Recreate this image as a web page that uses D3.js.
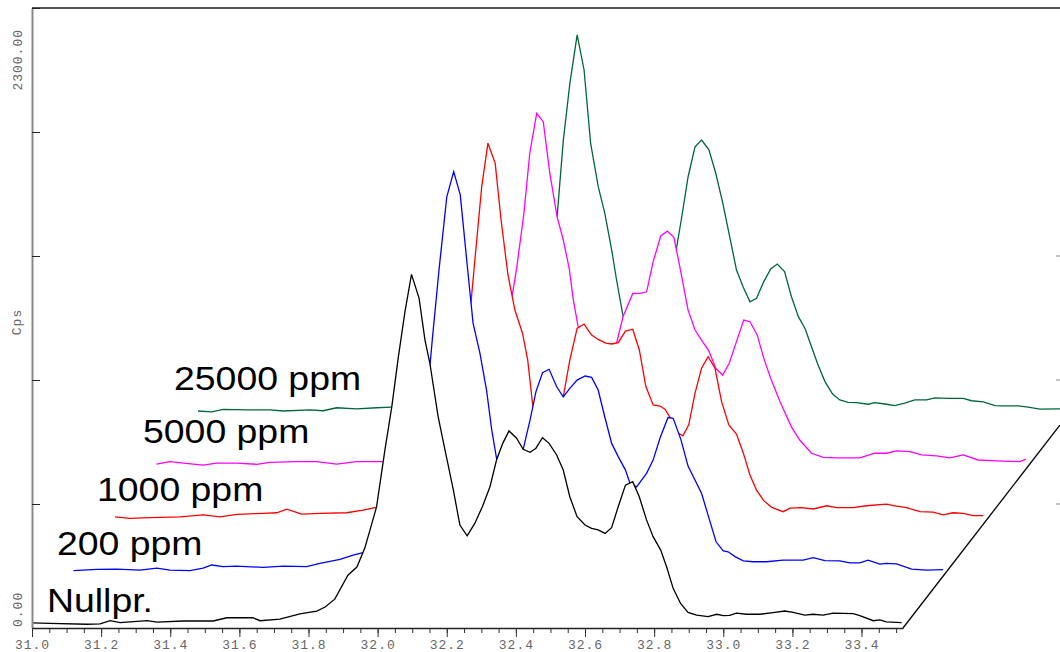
<!DOCTYPE html>
<html>
<head>
<meta charset="utf-8">
<script src="https://cdn.jsdelivr.net/npm/d3@7"></script>
<style>
  body { margin: 0; background: #fff; }
  svg { display: block; }
  .tick-label { font-family: "Liberation Mono", "DejaVu Sans Mono", monospace; font-size: 13px; fill: #666; letter-spacing: 1px; }
  .series-label { font-family: "Liberation Sans", Arial, sans-serif; font-size: 34px; fill: #000; }
</style>
</head>
<body>
<svg id="chart"></svg>
<script>
// series, front to back: name, colour
const seriesNames = ['Nullpr.', '200 ppm', '1000 ppm', '5000 ppm', '25000 ppm'];
const seriesColors = ['#000000', '#0000ff', '#ff0000', '#ff00ff', '#00663a'];

// [position, Cps]
const nullprData = [[31.000,19],[31.052,17],[31.159,14],[31.197,15],[31.226,27],[31.255,20],[31.333,27],[31.362,22],[31.437,26],[31.524,26],[31.564,38],[31.639,38],[31.660,27],[31.717,33],[31.775,52],[31.824,63],[31.848,78],[31.876,107],[31.914,196],[31.940,226],[31.963,297],[31.978,364],[31.997,450],[32.021,660],[32.041,821],[32.060,1006],[32.079,1173],[32.098,1312],[32.120,1223],[32.137,1068],[32.151,983],[32.175,784],[32.195,660],[32.219,512],[32.238,382],[32.259,342],[32.281,388],[32.303,450],[32.325,524],[32.344,623],[32.362,685],[32.380,731],[32.402,704],[32.421,663],[32.441,652],[32.458,667],[32.477,706],[32.496,685],[32.518,642],[32.537,586],[32.556,487],[32.577,413],[32.600,382],[32.619,370],[32.638,364],[32.658,351],[32.677,372],[32.696,450],[32.717,530],[32.738,543],[32.757,487],[32.778,401],[32.797,339],[32.819,289],[32.836,227],[32.855,147],[32.876,92],[32.898,58],[32.923,48],[32.956,42],[32.981,51],[33.000,46],[33.019,47],[33.038,55],[33.067,51],[33.106,51],[33.144,57],[33.178,63],[33.202,58],[33.236,48],[33.260,51],[33.289,48],[33.318,55],[33.376,53],[33.395,46],[33.434,27],[33.453,30],[33.472,23],[33.516,20]];

const ppm200Data = [[31.000,18],[31.067,23],[31.125,24],[31.192,20],[31.241,27],[31.279,20],[31.337,18],[31.375,27],[31.400,39],[31.433,33],[31.472,35],[31.549,30],[31.607,35],[31.675,33],[31.713,45],[31.771,60],[31.809,76],[31.838,85],[31.900,120],[31.960,300],[32.017,577],[32.038,874],[32.058,1140],[32.080,1405],[32.100,1498],[32.119,1412],[32.140,1140],[32.156,936],[32.176,824],[32.195,688],[32.210,540],[32.224,435],[32.243,362],[32.263,373],[32.282,410],[32.301,468],[32.321,577],[32.338,682],[32.357,752],[32.376,765],[32.398,700],[32.417,663],[32.436,694],[32.457,725],[32.480,740],[32.499,735],[32.518,688],[32.537,589],[32.557,490],[32.576,441],[32.597,391],[32.610,342],[32.629,329],[32.658,379],[32.677,428],[32.697,510],[32.720,586],[32.735,583],[32.757,506],[32.778,406],[32.817,305],[32.836,224],[32.859,125],[32.880,91],[32.894,88],[32.914,70],[32.938,54],[32.966,51],[33.005,51],[33.053,57],[33.111,57],[33.140,66],[33.174,55],[33.217,54],[33.246,47],[33.275,47],[33.299,57],[33.333,42],[33.352,45],[33.381,43],[33.425,24],[33.468,20],[33.516,22]];

const ppm1000Data = [[31.000,23],[31.043,17],[31.101,20],[31.188,23],[31.255,30],[31.304,23],[31.352,32],[31.429,36],[31.468,38],[31.497,51],[31.540,33],[31.593,36],[31.670,38],[31.718,48],[31.752,57],[31.824,63],[31.911,74],[31.969,104],[31.992,234],[32.015,605],[32.039,945],[32.061,1248],[32.079,1409],[32.100,1334],[32.117,1124],[32.137,920],[32.157,790],[32.179,704],[32.194,605],[32.208,444],[32.227,308],[32.247,289],[32.267,345],[32.297,469],[32.316,605],[32.337,722],[32.357,738],[32.379,697],[32.398,681],[32.420,667],[32.437,664],[32.456,669],[32.477,712],[32.498,719],[32.517,642],[32.536,506],[32.557,438],[32.577,434],[32.591,422],[32.605,394],[32.623,338],[32.643,323],[32.660,364],[32.678,481],[32.697,574],[32.716,617],[32.736,574],[32.755,450],[32.776,364],[32.798,330],[32.818,259],[32.837,178],[32.856,122],[32.877,83],[32.900,58],[32.933,42],[32.953,55],[32.986,57],[33.020,52],[33.059,64],[33.088,57],[33.136,57],[33.174,64],[33.232,70],[33.261,63],[33.290,57],[33.329,42],[33.367,40],[33.396,30],[33.425,38],[33.454,36],[33.483,27],[33.512,27]];

const ppm5000Data = [[31.000,24],[31.039,33],[31.078,27],[31.135,20],[31.174,27],[31.232,27],[31.290,23],[31.328,30],[31.406,33],[31.463,33],[31.521,24],[31.579,33],[31.656,33],[31.762,35],[31.907,35],[31.965,58],[31.988,150],[32.008,373],[32.027,633],[32.042,750],[32.063,954],[32.080,1177],[32.100,1325],[32.119,1294],[32.138,1102],[32.159,942],[32.177,855],[32.194,750],[32.206,633],[32.220,533],[32.240,466],[32.260,410],[32.280,380],[32.300,391],[32.318,428],[32.331,472],[32.350,571],[32.378,657],[32.399,657],[32.418,663],[32.437,775],[32.459,870],[32.478,888],[32.497,865],[32.514,756],[32.538,595],[32.558,521],[32.577,484],[32.598,444],[32.618,379],[32.638,354],[32.657,398],[32.678,478],[32.699,558],[32.717,552],[32.738,503],[32.757,416],[32.777,342],[32.804,255],[32.837,162],[32.861,113],[32.895,64],[32.929,49],[32.968,47],[33.035,47],[33.078,64],[33.112,64],[33.141,73],[33.180,70],[33.214,58],[33.257,54],[33.295,47],[33.334,58],[33.377,39],[33.431,36],[33.498,33],[33.515,42]];

const ppm25000Data = [[31.000,26],[31.040,23],[31.073,32],[31.141,30],[31.208,30],[31.247,26],[31.324,30],[31.362,27],[31.401,38],[31.459,34],[31.517,38],[31.560,40],[31.729,48],[31.931,67],[31.989,215],[32.018,549],[32.039,747],[32.057,1031],[32.076,1242],[32.097,1421],[32.117,1291],[32.136,1019],[32.158,858],[32.177,759],[32.197,623],[32.211,512],[32.230,376],[32.264,271],[32.308,326],[32.342,438],[32.385,635],[32.399,741],[32.418,895],[32.438,1006],[32.457,1031],[32.478,996],[32.498,908],[32.518,799],[32.539,668],[32.558,549],[32.577,487],[32.597,431],[32.616,444],[32.637,506],[32.657,553],[32.676,571],[32.697,543],[32.717,450],[32.737,376],[32.756,333],[32.775,264],[32.794,197],[32.814,135],[32.836,89],[32.857,67],[32.881,58],[32.905,57],[32.939,51],[32.958,57],[32.992,51],[33.016,46],[33.045,55],[33.074,67],[33.108,67],[33.132,75],[33.175,73],[33.214,73],[33.238,64],[33.272,60],[33.306,46],[33.325,45],[33.373,45],[33.402,40],[33.436,33],[33.494,34],[33.516,33]];

const seriesData = [nullprData, ppm200Data, ppm1000Data, ppm5000Data, ppm25000Data];

// axis ticks
const xMajorTicks = d3.range(0, 13).map(k => 31 + k * 0.2);
const xMinorTicks = d3.range(0, 51).map(k => 31 + k * 0.05);
const yTicks = [0, 460, 920, 1380, 1840, 2300];
const yEndLabels = ['0.00', '2300.00'];

const width = 1060, height = 652;
const svg = d3.select('#chart').attr('width', width).attr('height', height);

const x = d3.scaleLinear().domain([31.0, 33.52]).range([32, 903]);
const y = d3.scaleLinear().domain([0, 2300]).range([628, 8]);

// each series sits one step further back
const depthDx = 41.5, depthDy = 52.5;

// painter's order: back first, each front trace hides what is behind it
for (let i = seriesData.length - 1; i >= 0; i--) {
    const ox = i * depthDx, oy = -i * depthDy;
    const area = d3.area()
        .x(d => x(d[0]) + ox)
        .y0(y(0) + oy)
        .y1(d => y(d[1]) + oy);
    const line = d3.line()
        .x(d => x(d[0]) + ox)
        .y(d => y(d[1]) + oy);

    svg.append('path')
        .datum(seriesData[i])
        .attr('d', area)
        .attr('fill', '#fff');

    svg.append('path')
        .datum(seriesData[i])
        .attr('d', line)
        .attr('fill', 'none')
        .attr('stroke', seriesColors[i])
        .attr('stroke-width', 1.3);
}

// top frame line
svg.append('line')
    .attr('x1', x.range()[0]).attr('x2', width)
    .attr('y1', y(2300)).attr('y2', y(2300))
    .attr('stroke', '#555').attr('stroke-width', 2);

// right frame ticks
yTicks.slice(1, 4).forEach(v => {
    svg.append('line')
        .attr('x1', width - 4).attr('x2', width)
        .attr('y1', y(v)).attr('y2', y(v))
        .attr('stroke', '#888').attr('stroke-width', 1);
});

// left axis, ticks pointing inwards
const yAxis = svg.append('g')
    .attr('transform', `translate(${x.range()[0]},0)`)
    .call(d3.axisRight(y).tickValues(yTicks).tickSize(8).tickSizeOuter(0).tickFormat(''));
yAxis.select('.domain').attr('stroke', '#888').attr('stroke-width', 2);
yAxis.selectAll('.tick line').attr('stroke', '#222').attr('stroke-width', 1);

// bottom axis: minor then major ticks
const xMinor = svg.append('g')
    .attr('transform', `translate(0,${y(0)})`)
    .call(d3.axisBottom(x).tickValues(xMinorTicks).tickSize(5).tickSizeOuter(0).tickFormat(''));
xMinor.select('.domain').remove();
xMinor.selectAll('.tick line').attr('stroke', '#333');

const xAxis = svg.append('g')
    .attr('transform', `translate(0,${y(0)})`)
    .call(d3.axisBottom(x).tickValues(xMajorTicks).tickSize(9).tickSizeOuter(0).tickFormat(d3.format('.1f')));
xAxis.select('.domain').attr('stroke', '#222').attr('stroke-width', 1.5);
xAxis.selectAll('.tick line').attr('stroke', '#333');
xAxis.selectAll('.tick text')
    .attr('class', 'tick-label')
    .attr('y', 12)
    .attr('font-size', null)
    .attr('font-family', null)
    .attr('fill', null);
xAxis.attr('font-size', null).attr('font-family', null);

// depth edge of the floor
svg.append('line')
    .attr('x1', x(33.52)).attr('y1', y(0))
    .attr('x2', x(33.52) + 6 * 41.5 * 0.63).attr('y2', y(0) - 6 * 41.5 * 0.63 * 1.293)
    .attr('stroke', '#000').attr('stroke-width', 1.3);

// y end labels and title (rotated)
svg.append('text')
    .attr('class', 'tick-label')
    .attr('transform', `translate(22,${y(0) - 1}) rotate(-90)`)
    .attr('text-anchor', 'start')
    .text(yEndLabels[0]);
svg.append('text')
    .attr('class', 'tick-label')
    .attr('transform', `translate(22,${y(2300) + 21}) rotate(-90)`)
    .attr('text-anchor', 'end')
    .text(yEndLabels[1]);
svg.append('text')
    .attr('class', 'tick-label')
    .attr('transform', 'translate(21,322) rotate(-90)')
    .attr('text-anchor', 'middle')
    .text('Cps');

// series labels
const labelPos = [[47, 612], [57, 555], [97, 501], [143, 443], [174, 390]];
seriesNames.forEach((name, i) => {
    svg.append('text')
        .attr('class', 'series-label')
        .attr('transform', `translate(${labelPos[i][0]},${labelPos[i][1]}) scale(1.1,1)`)
        .text(name);
});
</script>
</body>
</html>
